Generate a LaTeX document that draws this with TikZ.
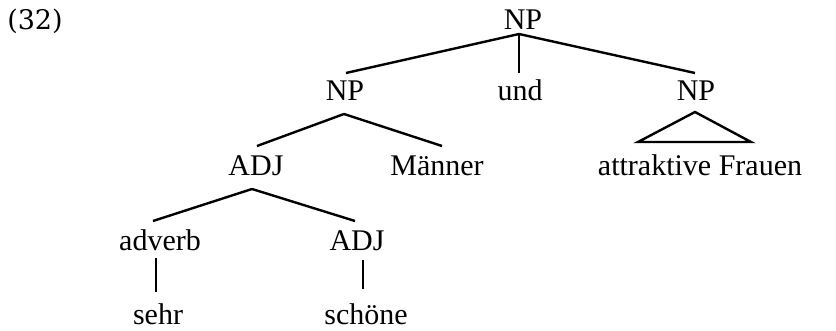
\documentclass[tikz,border=0pt]{standalone}
\usepackage{fontspec}
\setmainfont{Liberation Serif}
\newfontfamily\numfont{DejaVu Serif}
\tikzset{
  lbl/.style={anchor=base, inner sep=0pt, font=\fontsize{30}{32}\selectfont},
  edge/.style={line width=2.4pt},
}
\begin{document}
\begin{tikzpicture}[x=1pt,y=-1pt]
\useasboundingbox (0,0) rectangle (836,331);
\node[anchor=base, inner sep=0pt, font=\numfont\fontsize{27}{30}\selectfont] (ex) at (35,30) {(32)};
\node[lbl] (np0) at (523,30) {NP};
\node[lbl] (np1) at (345,101) {NP};
\node[lbl] (und) at (520,101) {und};
\node[lbl] (np2) at (696,101) {NP};
\node[lbl] (adj1) at (256,176) {ADJ};
\node[lbl] (mae) at (437,176) {Männer};
\node[lbl] (af) at (700,176) {attraktive Frauen};
\node[lbl] (adv) at (160,251) {adverb};
\node[lbl] (adj2) at (357,251) {ADJ};
\node[lbl] (sehr) at (158,324) {sehr};
\node[lbl] (sch) at (366,324) {schöne};
% root
\draw[edge] ([xshift=-4pt,yshift=-4pt]np0.base) -- ([xshift=1pt,yshift=28pt]np1.base);
\draw[edge] ([xshift=-4pt,yshift=-4pt]np0.base) -- ([xshift=-1pt,yshift=28pt]und.base);
\draw[edge] ([xshift=-4pt,yshift=-4pt]np0.base) -- ([xshift=-1pt,yshift=28pt]np2.base);
% left NP
\draw[edge] ([xshift=-1pt,yshift=-13pt]np1.base) -- ([xshift=1pt,yshift=30pt]adj1.base);
\draw[edge] ([xshift=-1pt,yshift=-13pt]np1.base) -- ([xshift=5pt,yshift=30pt]mae.base);
% triangle
\draw[edge, line join=miter] ([xshift=-1pt,yshift=-11pt]np2.base) -- ([xshift=-62pt,yshift=34pt]af.base) -- ([xshift=51pt,yshift=34pt]af.base) -- cycle;
% ADJ
\draw[edge] ([xshift=-4pt,yshift=-13pt]adj1.base) -- ([xshift=-7pt,yshift=30pt]adv.base);
\draw[edge] ([xshift=-4pt,yshift=-13pt]adj1.base) -- ([xshift=-2pt,yshift=30pt]adj2.base);
% leaves
\draw[edge] ([xshift=-4pt,yshift=-7pt]adv.base) -- ([xshift=-2pt,yshift=32pt]sehr.base);
\draw[edge] ([xshift=6pt,yshift=-9pt]adj2.base) -- ([xshift=-3pt,yshift=35pt]sch.base);
\end{tikzpicture}
\end{document}
